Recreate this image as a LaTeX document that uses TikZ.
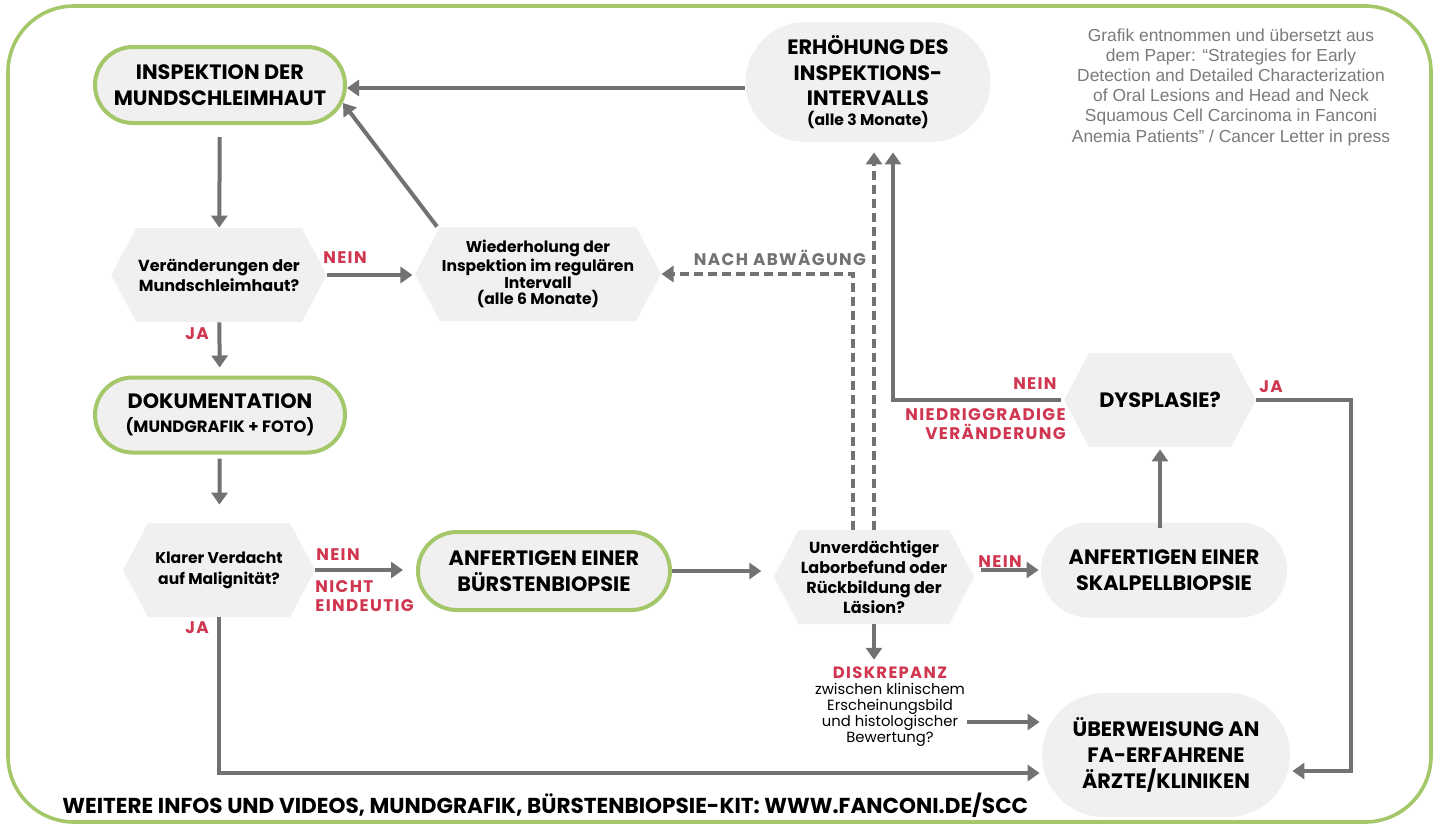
\documentclass[tikz,border=0pt]{standalone}
\usepackage{fontspec}
\setmainfont{Poppins}
\newfontfamily\quellfont{Liberation Sans}
\newfontfamily\sperrfont[LetterSpace=8]{Poppins}
\usetikzlibrary{positioning, arrows.meta, shapes.symbols}

\definecolor{rahmengruen}{HTML}{A4C76A}
\definecolor{kastengrau}{HTML}{F0F0F0}
\definecolor{pfeilgrau}{HTML}{727272}
\definecolor{jeinrot}{HTML}{D0364F}
\definecolor{quellgrau}{HTML}{7A7A7A}

\begin{document}
\begin{tikzpicture}
        [
          x=0.5pt, y=-0.5pt,
          kapsel/.style={rectangle, fill=kastengrau, align=center, inner sep=1pt,
            font=\bfseries\fontsize{10.4}{12.8}\selectfont},
          gruenkapsel/.style={kapsel, draw=rahmengruen, line width=2pt},
          frage/.style={signal, signal to=east and west, signal pointer angle=124,
            fill=kastengrau, minimum width=96pt, minimum height=47pt, align=center,
            inner sep=1pt, font=\bfseries\fontsize{8}{10}\selectfont},
          pfeil/.style={draw=pfeilgrau, line width=2pt, -{Triangle[width=8pt,length=6pt]}},
          strich/.style={pfeil, dash pattern=on 4.5pt off 2.5pt},
          antwort/.style={text=jeinrot, inner sep=0pt, align=center,
            font=\sperrfont\bfseries\fontsize{8.4}{9.8}\selectfont}
        ]
        \useasboundingbox (0,0) rectangle (1439,826);
        % rahmen
        \draw[rahmengruen, line width=1.8pt, rounded corners=33pt] (8,6) rectangle (1431,822);
        % linke spalte
        \node[gruenkapsel, minimum width=125pt, minimum height=38pt, rounded corners=19pt]
          (insp) at (220,85) {INSPEKTION DER\\MUNDSCHLEIMHAUT};
        \node[frage] (veraend) at (219,275) {Veränderungen der\\Mundschleimhaut?};
        \node[gruenkapsel, minimum width=125pt, minimum height=37.5pt, rounded corners=18.75pt]
          (doku) at (220,415) {DOKUMENTATION\\[-1pt]{\fontsize{8.2}{9}\selectfont(MUNDGRAFIK + FOTO)}};
        \node[frage, font=\bfseries\fontsize{7.8}{10.5}\selectfont] (verdacht) at (219,570)
          {Klarer Verdacht\\auf Malignität?};
        % mitte
        \node[frage, minimum width=118.5pt, font=\bfseries\fontsize{7.8}{8.2}\selectfont]
          (wiederh) at (538,274) {Wiederholung der\\Inspektion im regulären\\Intervall\\(alle 6 Monate)};
        \node[gruenkapsel, minimum width=126pt, minimum height=39pt, rounded corners=19.5pt]
          (buerste) at (544,571) {ANFERTIGEN EINER\\BÜRSTENBIOPSIE};
        \node[kapsel, minimum width=122.5pt, minimum height=60pt, rounded corners=30pt]
          (erhoeh) at (868,82) {ERHÖHUNG DES\\INSPEKTIONS-\\INTERVALLS\\[-3pt]{\fontsize{7.8}{9}\selectfont(alle 3 Monate)}};
        \node[frage, minimum width=98pt] (labor) at (874,577)
          {Unverdächtiger\\Laborbefund oder\\Rückbildung der\\Läsion?};
        \node[align=center, inner sep=1pt, font=\fontsize{7.4}{8}\selectfont] (diskrep) at (890,707)
          {{\color{jeinrot}\sperrfont\bfseries\fontsize{8.2}{8}\selectfont DISKREPANZ}\\zwischen klinischem\\Erscheinungsbild\\und histologischer\\Bewertung?};
        % rechte spalte
        \node[frage] (dysplasie) at (1160,400) {\fontsize{10.4}{11}\selectfont DYSPLASIE?};
        \node[kapsel, minimum width=123pt, minimum height=47.5pt, rounded corners=23.75pt]
          (skalpell) at (1164,570) {ANFERTIGEN EINER\\SKALPELLBIOPSIE};
        \node[kapsel, minimum width=124pt, minimum height=62pt, rounded corners=31pt]
          (ueberw) at (1166,755) {ÜBERWEISUNG AN\\FA-ERFAHRENE\\ÄRZTE/KLINIKEN};
        % quelle und fusszeile
        \node[align=center, text=quellgrau, font=\quellfont\fontsize{8.7}{10.1}\selectfont] (quelle) at (1231,87)
          {Grafik entnommen und übersetzt aus\\dem Paper: “Strategies for Early\\Detection and Detailed Characterization\\of Oral Lesions and Head and Neck\\Squamous Cell Carcinoma in Fanconi\\Anemia Patients” / Cancer Letter in press};
        \node[anchor=west, inner sep=0pt, font=\bfseries\fontsize{10.8}{12}\selectfont] (fuss) at (62,805)
          {WEITERE INFOS UND VIDEOS, MUNDGRAFIK, BÜRSTENBIOPSIE-KIT: WWW.FANCONI.DE/SCC};
        % pfeile links
        \draw[pfeil, shorten <=6pt] (insp) -- (veraend);
        \draw[pfeil, shorten >=1pt] (veraend.east) -- (veraend.east -| wiederh.west);
        \draw[pfeil, shorten >=4pt] (veraend) -- (doku);
        \draw[pfeil, shorten <=2pt, shorten >=9pt] (doku) -- (verdacht);
        \draw[pfeil, shorten >=6.5pt] (verdacht.east) -- (verdacht.east -| buerste.west);
        \draw[pfeil, shorten >=1pt] (verdacht.south) |- ([yshift=-9pt]ueberw.west);
        % zurueck zur inspektion
        \draw[pfeil] ([xshift=-50.5pt]wiederh.north) -- ([xshift=-2pt,yshift=-9pt]insp.east);
        \draw[pfeil] ([yshift=-3pt]erhoeh.west) -- ([yshift=-1.5pt]insp.east);
        % mitte
        \draw[pfeil, shorten >=6pt] (buerste.east) -- (buerste.east -| labor.west);
        \draw[pfeil, shorten <=3pt, shorten >=1pt] (labor.east |- skalpell.west) -- (skalpell.west);
        \draw[pfeil] (labor.south) -- ([yshift=2.5pt]labor.south |- diskrep.north);
        \draw[pfeil, shorten >=1pt] ([yshift=-7.5pt]diskrep.east) -- ([yshift=16.5pt]ueberw.west);
        \draw[strich, shorten >=5pt] (labor.north) -- (labor.north |- erhoeh.south);
        \draw[strich] ([xshift=-10.5pt]labor.north) |- (wiederh.east);
        % rechts
        \draw[pfeil, shorten <=-3pt, shorten >=1pt] (dysplasie.south |- skalpell.north) -- (dysplasie.south);
        \draw[pfeil, shorten <=1.5pt, shorten >=5pt] (dysplasie.west) -| ([xshift=12.5pt]erhoeh.south);
        \draw[pfeil, shorten >=1pt] (dysplasie.east) -- ++(95,0) |- ([yshift=-8pt]ueberw.east);
        % antworten
        \node[antwort] (nein1) at (345,258) {NEIN};
        \node[antwort] (ja1) at (197,334) {JA};
        \node[antwort] (nein2) at (338,555) {NEIN};
        \node[antwort, anchor=north west, align=left] (nichteind) at (315,580) {NICHT\\EINDEUTIG};
        \node[antwort] (ja2) at (197,628) {JA};
        \node[antwort, text=pfeilgrau] (abwaeg) at (780,258) {NACH ABWÄGUNG};
        \node[antwort] (nein3) at (1000,562) {NEIN};
        \node[antwort, anchor=east] (nein4) at (1057,384) {NEIN};
        \node[antwort, anchor=north east, align=right] (niedrig) at (1066,408) {NIEDRIGGRADIGE\\VERÄNDERUNG};
        \node[antwort] (ja3) at (1271,387) {JA};
\end{tikzpicture}
\end{document}
